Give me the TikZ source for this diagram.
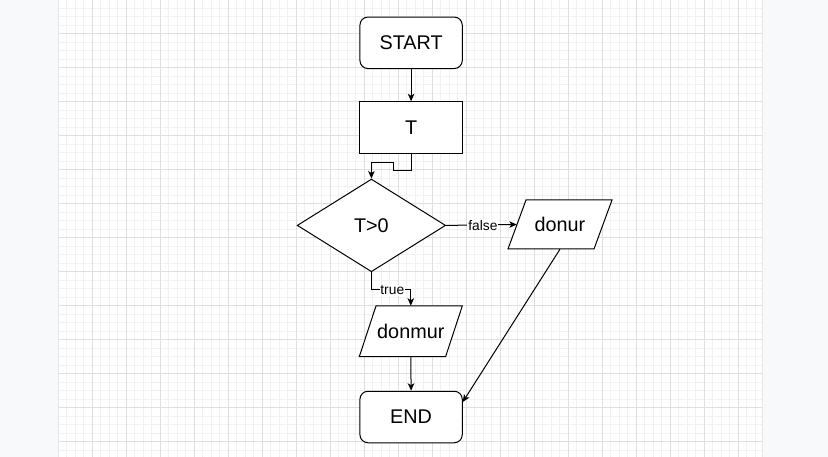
\documentclass[tikz,border=0pt]{standalone}
\usepackage{fontspec}
\setmainfont{Liberation Sans}
\usetikzlibrary{arrows.meta,shapes.geometric}
\definecolor{bggray}{HTML}{F8F9FA}
\definecolor{minorgrid}{HTML}{F1F1F1}
\definecolor{majorgrid}{HTML}{DFDFDF}
\definecolor{pageedge}{HTML}{E6E7E8}
\begin{document}
\begin{tikzpicture}[x=1pt,y=-1pt,
  shapebase/.style={draw, line width=1pt, fill=white, inner sep=0pt,
    font=\fontsize{19.8}{23}\selectfont},
  box/.style={shapebase, minimum width=102.3pt, minimum height=51.5pt},
  term/.style={box, rounded corners=8pt},
  decision/.style={shapebase, diamond, minimum width=148.4pt, minimum height=92.7pt},
  paratext/.style={inner sep=0pt, font=\fontsize{19.8}{23}\selectfont},
  parashape/.style={draw, line width=1pt, fill=white, line join=miter},
  arr/.style={line width=1pt, -{Stealth[length=7.5pt,width=6.5pt,inset=2pt]}},
  lbl/.style={fill=white, inner sep=0.8pt, font=\fontsize{13.8}{16}\selectfont}
]
\useasboundingbox (0,0) rectangle (828,457);
\fill[bggray] (0,0) rectangle (828,457);
\fill[white] (58,0) rectangle (762,457);
% minor grid
\foreach \k in {1,...,83} {\draw[minorgrid, line width=0.9pt] ({58+8.5*\k},0) -- ({58+8.5*\k},457);}
\foreach \k in {1,...,53} {\draw[minorgrid, line width=0.9pt] (58,{-0.5+8.5*\k}) -- (762,{-0.5+8.5*\k});}
% major grid
\foreach \k in {1,...,20} {\draw[majorgrid, line width=0.9pt] ({58+34*\k},0) -- ({58+34*\k},457);}
\foreach \k in {1,...,13} {\draw[majorgrid, line width=0.9pt] (58,{-0.5+34*\k}) -- (762,{-0.5+34*\k});}
\fill[bggray] (762,0) rectangle (828,457);
\draw[pageedge, line width=1pt] (58,0) -- (58,457);
\draw[pageedge, line width=1pt] (762,0) -- (762,457);

% nodes
\node[term] (start) at (411.1,42.8) {START};
\node[box] (t) at (411.1,127.5) {T};
\node[decision] (dec) at (371.4,225.4) {T>0};

% parallelogram "donur": box 508..612 x 200..249, slant 18
\coordinate (donurc) at (560,224.5);
\draw[parashape] ([shift={(-34,-24.5)}]donurc) -- ([shift={(52,-24.5)}]donurc)
  -- ([shift={(34,24.5)}]donurc) -- ([shift={(-52,24.5)}]donurc) -- cycle;
\node[paratext, minimum width=104pt, minimum height=49pt] (donur) at (donurc) {donur};
\coordinate (donurin) at ([xshift=9pt]donur.west);

% parallelogram "donmur": box 359.3..462.3 x 306..356.7, slant 16.7
\coordinate (donmurc) at (410.8,331.3);
\draw[parashape] ([shift={(-34.8,-25.35)}]donmurc) -- ([shift={(51.5,-25.35)}]donmurc)
  -- ([shift={(34.8,25.35)}]donmurc) -- ([shift={(-51.5,25.35)}]donmurc) -- cycle;
\node[paratext, minimum width=103pt, minimum height=50.7pt] (donmur) at (donmurc) {donmur};

\node[term] (end) at (411.1,417) {END};

% connectors
\draw[arr] (start) -- (t);
\draw[arr] (t.south) -- ++(0,16.7) -- ++(-17.4,0) -- ++(0,-8.3) -| (dec.north);
\draw[arr] (dec.east) -- node[lbl, pos=0.52, yshift=-1pt] {false} (donurin);
\draw[arr] (dec.south) -- ++(0,17.3) -| node[lbl, pos=0.265, yshift=-1pt] {true} (donmur.north);
\draw[arr] (donmur.south) -- (end.north);
\draw[arr] (donur.south) -- ([yshift=15pt]end.east);
\end{tikzpicture}
\end{document}
